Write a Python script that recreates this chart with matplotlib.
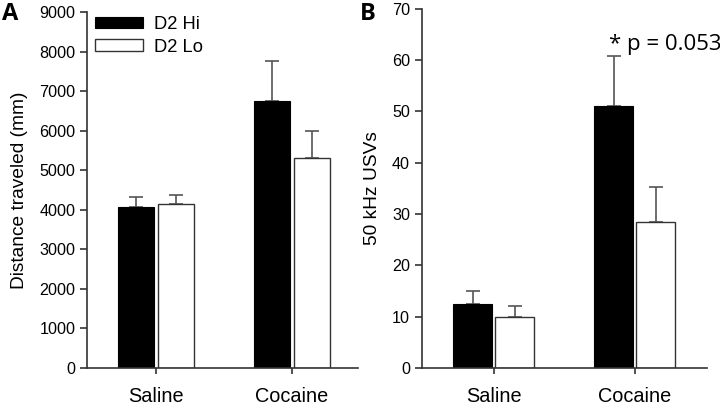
import numpy as np
import matplotlib
matplotlib.use("Agg")
import matplotlib.pyplot as plt

plt.rcParams['font.family'] = ['Liberation Sans', 'DejaVu Sans']

groups = ['Saline', 'Cocaine']
series = ['D2 Hi', 'D2 Lo']

# panel A: distance traveled (mm)
dist_hi = [4080, 6750]
dist_hi_err = [240, 1010]
dist_lo = [4140, 5310]
dist_lo_err = [240, 690]

# panel B: 50 kHz USVs
usv_hi = [12.5, 51.0]
usv_hi_err = [2.4, 9.8]
usv_lo = [9.9, 28.4]
usv_lo_err = [2.2, 6.9]

AX_COL = '#333333'
ERR_COL = '#555555'

fig = plt.figure(figsize=(7.2, 4.2), dpi=100)
axA = fig.add_axes([0.121, 0.124, 0.376, 0.847])
axB = fig.add_axes([0.586, 0.124, 0.396, 0.855])


def draw_panel(ax, hi, hi_err, lo, lo_err, ymax, step, ylabel, width):
    x = np.arange(len(groups))
    off = width / 2 + 0.012
    ax.bar(x - off, hi, width, color='black', edgecolor='black', linewidth=0.8,
           label=series[0], zorder=2)
    ax.bar(x + off, lo, width, color='white', edgecolor='#333333', linewidth=1.0,
           label=series[1], zorder=2)
    ax.errorbar(x - off, hi, yerr=[np.zeros(len(hi)), hi_err], fmt='none',
                ecolor=ERR_COL, elinewidth=1.2, capsize=5, capthick=1.2, zorder=1)
    ax.errorbar(x + off, lo, yerr=[np.zeros(len(lo)), lo_err], fmt='none',
                ecolor=ERR_COL, elinewidth=1.2, capsize=5, capthick=1.2, zorder=1)
    ax.set_ylim(0, ymax)
    ax.set_yticks(np.arange(0, ymax + 1, step))
    ax.set_xticks(x)
    ax.set_xticklabels(groups, fontsize=14.3)
    ax.set_ylabel(ylabel, fontsize=13.8, labelpad=8)
    for s in ['top', 'right']:
        ax.spines[s].set_visible(False)
    for s in ['left', 'bottom']:
        ax.spines[s].set_color(AX_COL)
        ax.spines[s].set_linewidth(1.2)
    ax.tick_params(axis='y', colors=AX_COL, labelcolor='black', labelsize=11.6,
                   length=5, width=1.2, direction='out')
    ax.tick_params(axis='x', colors=AX_COL, labelcolor='black', length=4,
                   width=1.2, direction='out', pad=10)


draw_panel(axA, dist_hi, dist_hi_err, dist_lo, dist_lo_err, 9000, 1000,
           'Distance traveled (mm)', 0.27)
axA.set_xlim(-0.507, 1.485)
axA.legend(loc='upper left', bbox_to_anchor=(-0.01, 1.02), frameon=False,
           fontsize=13.2, handlelength=2.6, handleheight=0.6, labelspacing=0.3,
           handletextpad=0.6, borderaxespad=0.2)

draw_panel(axB, usv_hi, usv_hi_err, usv_lo, usv_lo_err, 70, 10,
           '50 kHz USVs', 0.275)
axB.set_xlim(-0.51, 1.514)
axB.text(0.816, 62, '* p = 0.053', fontsize=16, family=['Open Sans', 'DejaVu Sans'],
         ha='left', va='baseline')

fig.text(0.003, 0.995, 'A', fontsize=17, fontweight='bold', ha='left', va='top',
         family=['Open Sans', 'DejaVu Sans'])
fig.text(0.5, 0.995, 'B', fontsize=17, fontweight='bold', ha='left', va='top',
         family=['Open Sans', 'DejaVu Sans'])

fig.savefig('out.png', dpi=100)
